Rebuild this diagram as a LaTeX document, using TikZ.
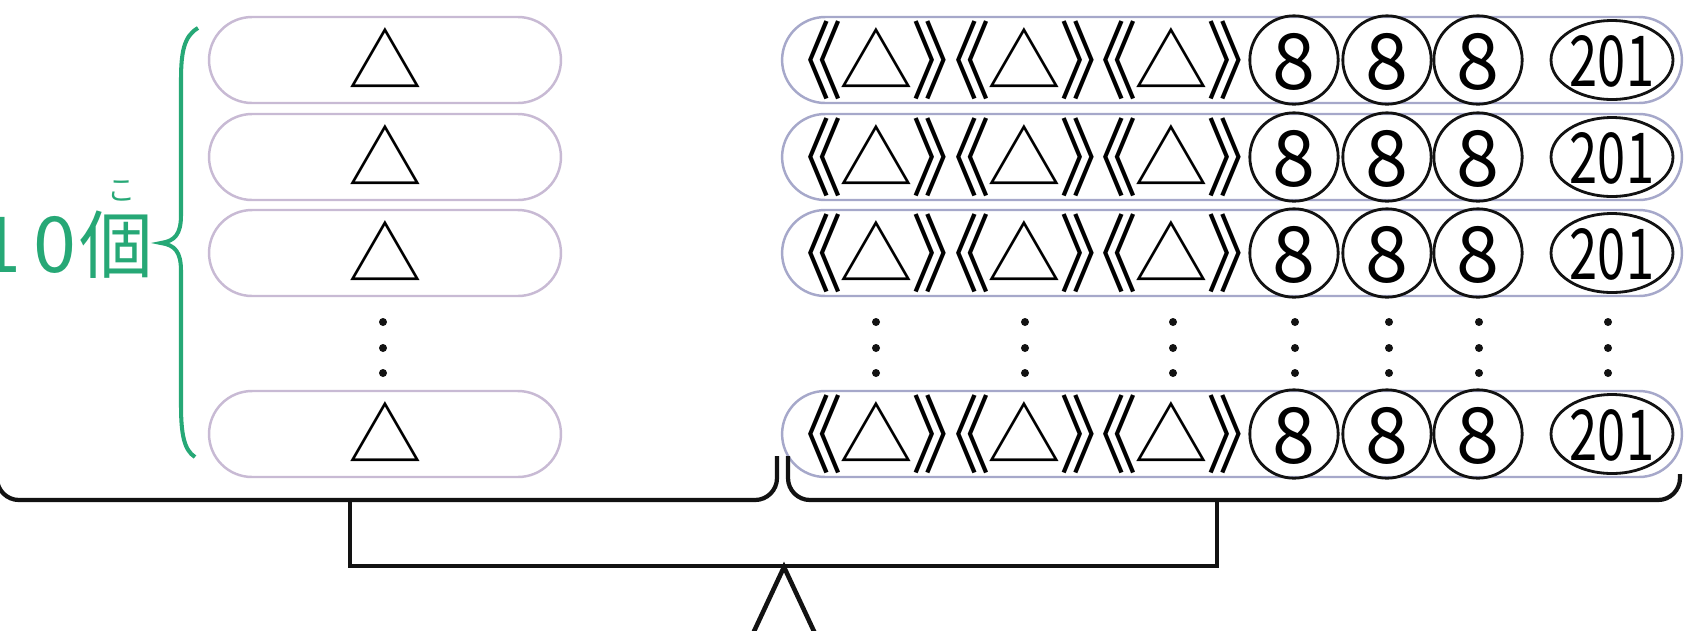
\documentclass[tikz,border=0pt]{standalone}
\usepackage{fontspec}
\newfontfamily\jp{Noto Sans CJK JP}
\usetikzlibrary{shapes.geometric, positioning}
\definecolor{leftbd}{RGB}{200,186,212}
\definecolor{rightbd}{RGB}{166,168,202}
\definecolor{countcol}{RGB}{38,168,118}
\definecolor{linecol}{RGB}{18,18,18}
\newcommand\tallglyph[1]{\raisebox{-2.4pt}{\scalebox{1}[1.15]{#1}}}

\begin{document}
\begin{tikzpicture}[
    x=0.02cm, y=-0.02cm,
    leftbox/.style  = {rectangle, rounded corners=0.86cm, draw=leftbd, line width=1.4pt,
                       minimum width=7.04cm, minimum height=1.72cm, inner sep=0,
                       font=\jp\fontsize{42}{42}\selectfont, text height=37pt, text depth=5pt},
    rowbox/.style   = {rectangle, rounded corners=0.86cm, draw=rightbd, line width=1.4pt,
                       minimum width=18cm, minimum height=1.72cm, inner sep=0},
    glyph/.style    = {inner sep=0, font=\jp\fontsize{42}{42}\selectfont,
                       text height=37pt, text depth=5pt},
    numtext/.style  = {inner sep=0, font=\jp\fontsize{44}{44}\selectfont,
                       text height=38.7pt, text depth=5.3pt},
    circnum/.style  = {circle, draw=linecol, line width=1.6pt, minimum size=1.56cm, inner sep=0,
                       numtext},
    ovalnum/.style  = {ellipse, draw=linecol, line width=1.6pt, minimum width=2.44cm,
                       minimum height=1.58cm, inner sep=0},
    bignum/.style   = {inner sep=0, font=\jp\fontsize{40}{40}\selectfont,
                       text height=35.2pt, text depth=4.8pt},
    vdot/.style     = {circle, fill=linecol, inner sep=0, minimum size=0.16cm},
    bracket/.style  = {draw=linecol, line width=2.4pt},
    countlbl/.style = {inner sep=0, text=countcol, font=\jp\fontsize{44}{44}\selectfont,
                       text height=38.7pt, text depth=5.3pt},
]
\useasboundingbox[fill=white] (0,0) rectangle (1684,630);

% ── Rows of boxes ───────────────────────────────────────────────
\foreach \r/\y in {1/60, 2/157, 3/253, 4/434} {
  \node[leftbox] (L\r) at (385,\y) {△};
  \node[rowbox] (R\r) at (1232,\y) {};
  \foreach \g/\cx in {1/876, 2/1024, 3/1171} {
    \node[glyph] (R\r-o\g) at (\cx-70,\y) {\tallglyph{《}};
    \node[glyph] (R\r-t\g) at (\cx,\y) {△};
    \node[glyph] (R\r-c\g) at (\cx+72,\y) {\tallglyph{》}};
  }
  \foreach \n/\cx in {1/1294, 2/1387, 3/1478}
    \node[circnum] (R\r-n\n) at (\cx,\y) {8};
  \node[ovalnum] (R\r-big) at (1612,\y) {};
  \node[bignum] (R\r-bt) at (R\r-big) {\scalebox{0.72}[1]{201}};
}

% ── Vertical dots ───────────────────────────────────────────────
\foreach \cx in {383, 876, 1025, 1173, 1295, 1389, 1479, 1608}
  \foreach \dy in {322, 348, 373}
    \node[vdot] (d\cx-\dy) at (\cx,\dy) {};

% ── Count brace and label ───────────────────────────────────────
\coordinate (cb-top) at (198,28);
\coordinate (cb-tip) at (161,243);
\coordinate (cb-bot) at (195,457);
\draw[countcol, line width=2.3pt] (cb-top) .. controls (184,36) and (181,52) .. (181,80)
    -- (181,215) .. controls (181,234) and (175,241) .. (cb-tip)
    .. controls (175,245) and (181,252) .. (181,271)
    -- (181,405) .. controls (181,434) and (184,450) .. (cb-bot);
\node[countlbl, anchor=east] (cnt) at (154,243)
    {1\kern0.24cm 0\kern0.07cm{\fontsize{42}{42}\selectfont 個}};
\node[text=countcol, inner sep=0, font=\jp\fontsize{16}{16}\selectfont] (ruby) at (122,191) {こ};

% ── Lower braces and bracket ────────────────────────────────────
\coordinate (lb-l) at (-3,462);
\coordinate (lb-r) at (777,456);
\coordinate (rb-l) at (788,456);
\coordinate (rb-r) at (1680,474);
\draw[bracket, rounded corners=0.44cm] (lb-l) -- (-3,500) -- (777,500) -- (lb-r);
\draw[bracket, rounded corners=0.44cm] (rb-l) -- (788,500) -- (1680,500) -- (rb-r);

\coordinate (bk-l) at (350,500);
\coordinate (bk-r) at (1217,500);
\draw[bracket] (bk-l) -- (350,566) -- (1217,566) -- (bk-r);

% ── Result triangle ─────────────────────────────────────────────
\node[isosceles triangle, isosceles triangle apex angle=50, shape border rotate=90,
      draw=linecol, line width=2.6pt, minimum width=3cm, minimum height=3cm,
      inner sep=0, outer sep=0, anchor=apex] (res) at (784,567) {};

\end{tikzpicture}
\end{document}
